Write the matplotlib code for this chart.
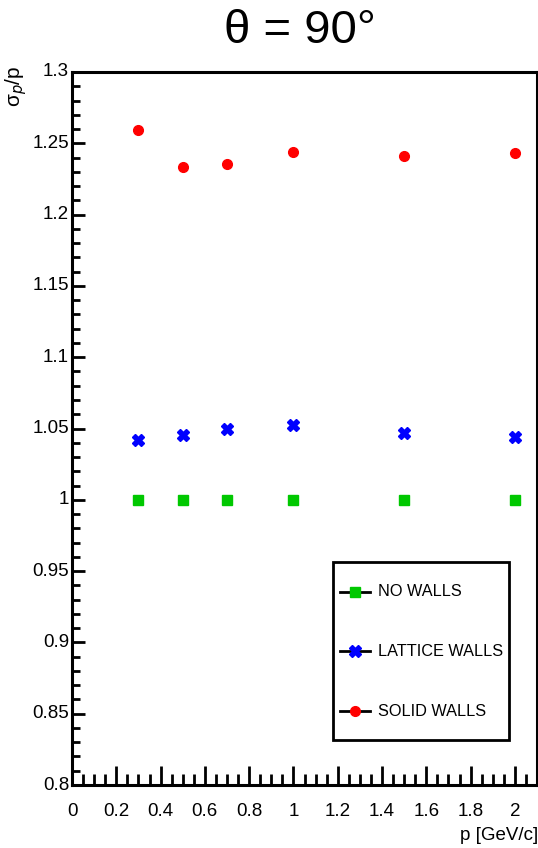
import matplotlib
matplotlib.use('Agg')
import matplotlib.pyplot as plt
from matplotlib.ticker import MultipleLocator
from matplotlib.patches import Rectangle
from matplotlib.transforms import offset_copy

plt.rcParams['font.family'] = ['Liberation Sans', 'DejaVu Sans']

# momentum points [GeV/c]
p_vals = [0.3, 0.5, 0.7, 1.0, 1.5, 2.0]

# resolution ratio for each wall configuration
no_walls = [1.0, 1.0, 1.0, 1.0, 1.0, 1.0]
lattice_walls = [1.042, 1.0455, 1.0495, 1.0522, 1.047, 1.0443]
solid_walls = [1.259, 1.2335, 1.2355, 1.2438, 1.241, 1.243]

labels = ['NO WALLS', 'LATTICE WALLS', 'SOLID WALLS']
x_ticks = [0, 0.2, 0.4, 0.6, 0.8, 1, 1.2, 1.4, 1.6, 1.8, 2]
y_ticks = [0.8, 0.85, 0.9, 0.95, 1, 1.05, 1.1, 1.15, 1.2, 1.25, 1.3]

styles = [('s', '#00c800', 6.5), ('X', 'blue', 8.5), ('o', 'red', 7)]

W, H = 538, 848
fig = plt.figure(figsize=(W / 100, H / 100), dpi=100)
ax = fig.add_axes([72 / W, 1 - 785 / H, 465 / W, 713 / H])

for series, lab, (m, c, ms) in zip([no_walls, lattice_walls, solid_walls], labels, styles):
    ax.plot(p_vals, series, linestyle='none', marker=m, color=c, markersize=ms, label=lab)

ax.set_xlim(0, 2.1)
ax.set_ylim(0.8, 1.3)

ax.xaxis.set_major_locator(MultipleLocator(0.2))
ax.xaxis.set_minor_locator(MultipleLocator(0.05))
ax.yaxis.set_major_locator(MultipleLocator(0.05))
ax.yaxis.set_minor_locator(MultipleLocator(0.01))
ax.set_xticklabels([])
ax.set_yticklabels([])

# tick labels drawn like ROOT does (trailing zeros dropped)
xt = offset_copy(ax.get_xaxis_transform(), fig=fig, x=0, y=-18, units='dots')
for v in x_ticks:
    ax.text(v, 0, '%g' % v, transform=xt, ha='center', va='top', fontsize=13.5)
yt = offset_copy(ax.get_yaxis_transform(), fig=fig, x=-3, y=0, units='dots')
for v in y_ticks:
    ax.text(0, v, '%g' % v, transform=yt, ha='right', va='center', fontsize=13.5)

ax.tick_params(axis='both', which='both', direction='in', width=2, top=False, right=False)
ax.tick_params(axis='x', which='major', length=14)
ax.tick_params(axis='x', which='minor', length=8)
ax.tick_params(axis='y', which='major', length=9)
ax.tick_params(axis='y', which='minor', length=5.5)

for s in ax.spines.values():
    s.set_linewidth(2.2)

fig.text(1.0, 1 - 836 / H, 'p [GeV/c]', ha='right', va='center', fontsize=13.5)
fig.text(300 / W, 1 - 43 / H, 'θ = 90°', ha='center', va='baseline', fontsize=34)
fig.text(3 / W, 1 - 66 / H, 'σ$_{p}$/p', rotation=90, ha='left', va='top', fontsize=15)

# legend box (ROOT TLegend style)
fig.patches.append(Rectangle((333 / W, 1 - 740 / H), 176 / W, 178 / H,
                             transform=fig.transFigure, fill=False,
                             edgecolor='black', linewidth=2))
entry_y = [592, 651, 711]
for lab, (m, c, ms), yy in zip(labels, styles, entry_y):
    fy = 1 - yy / H
    fig.add_artist(plt.Line2D([340 / W, 370 / W], [fy, fy], transform=fig.transFigure,
                              color='black', lw=2))
    fig.add_artist(plt.Line2D([355 / W], [fy], transform=fig.transFigure, marker=m,
                              color=c, markersize=ms, linestyle='none'))
    fig.text(378 / W, fy, lab, ha='left', va='center', fontsize=11.7)

fig.savefig('out.png', dpi=100)
